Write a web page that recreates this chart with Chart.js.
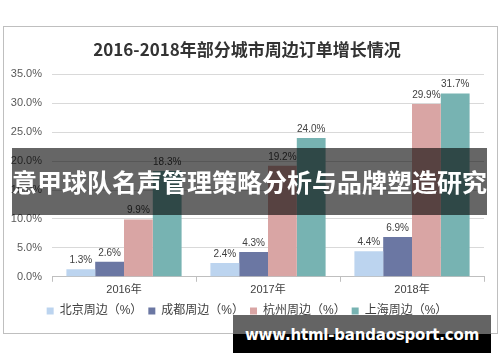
<!DOCTYPE html>
<html lang="zh">
<head>
<meta charset="UTF-8">
<title>2016-2018年部分城市周边订单增长情况</title>
<style>
  html, body { margin: 0; padding: 0; background: #fff; }
  body { width: 500px; height: 362px; position: relative; overflow: hidden; }
  .frame {
    position: absolute; left: 3px; top: 26px; width: 493px; height: 306px;
    border: 1px solid #bfbfbf; background: #fff;
  }
  .banner {
    position: absolute; left: 12px; top: 148px; width: 475px; height: 67px;
    background: rgba(0, 0, 0, 0.6); color: #fff;
    font-family: "Noto Sans CJK SC", sans-serif; font-weight: bold;
    font-size: 25px; line-height: 67px; text-align: center; white-space: nowrap;
  }
  .site {
    position: absolute; left: 233px; top: 315px; width: 258px; height: 38px;
    background: linear-gradient(#646464 0, #646464 50%, #000 50%, #000 100%);
    color: #fff; font-family: "DejaVu Sans", sans-serif; font-weight: bold;
    font-size: 15px; letter-spacing: -0.2px; line-height: 40px; text-align: center; white-space: nowrap;
  }
</style>
</head>
<body>
<div class="frame"><canvas id="chart" width="493" height="306"></canvas></div>
<div class="banner">意甲球队名声管理策略分析与品牌塑造研究</div>
<div class="site">www.html-bandaosport.com</div>

<script src="https://cdn.jsdelivr.net/npm/chart.js"></script>
<script>
const years = ['2016年', '2017年', '2018年'];
const beijing = [1.3, 2.4, 4.4];
const chengdu = [2.6, 4.3, 6.9];
const hangzhou = [9.9, 19.2, 29.9];
const shanghai = [18.3, 24.0, 31.7];

const fontFamily = '"Liberation Sans", "Noto Sans CJK SC", sans-serif';

// value labels above each bar
const barLabels = {
  id: 'barLabels',
  afterDatasetsDraw(chart) {
    const ctx = chart.ctx;
    ctx.save();
    ctx.font = '10px ' + fontFamily;
    ctx.fillStyle = '#404040';
    ctx.textAlign = 'center';
    ctx.textBaseline = 'bottom';
    chart.data.datasets.forEach((ds, i) => {
      chart.getDatasetMeta(i).data.forEach((bar, j) => {
        ctx.fillText(ds.data[j].toFixed(1) + '%', bar.x, bar.y - 4);
      });
    });
    ctx.restore();
  }
};

new Chart(document.getElementById('chart'), {
  type: 'bar',
  data: {
    labels: years,
    datasets: [
      { label: '北京周边（%）', data: beijing, backgroundColor: '#bcd4ef' },
      { label: '成都周边（%）', data: chengdu, backgroundColor: '#6b77a3' },
      { label: '杭州周边（%）', data: hangzhou, backgroundColor: '#d9a5a4' },
      { label: '上海周边（%）', data: shanghai, backgroundColor: '#77b3b2' }
    ]
  },
  options: {
    responsive: false,
    animation: false,
    layout: { padding: { left: 6, right: 13, top: 6, bottom: 6 } },
    datasets: { bar: { categoryPercentage: 0.8, barPercentage: 1.0 } },
    plugins: {
      title: {
        display: true,
        text: '2016-2018年部分城市周边订单增长情况',
        color: '#333',
        font: { family: '"Noto Sans CJK SC", sans-serif', size: 17, weight: 'bold' },
        padding: { top: 6, bottom: 15 }
      },
      legend: {
        position: 'bottom',
        labels: {
          boxWidth: 7, boxHeight: 7, padding: 6,
          color: '#404040',
          font: { family: fontFamily, size: 12 }
        }
      },
      tooltip: { enabled: false }
    },
    scales: {
      x: {
        grid: { drawOnChartArea: false, color: '#bfbfbf', tickLength: 5 },
        border: { color: '#bfbfbf' },
        ticks: { color: '#404040', font: { family: fontFamily, size: 11 }, padding: 2 }
      },
      y: {
        min: 0, max: 35,
        afterFit(scale) { scale.width = 42; },
        grid: { color: '#d9d9d9', drawTicks: false },
        border: { display: false },
        ticks: {
          stepSize: 5, padding: 10,
          color: '#595959', font: { family: fontFamily, size: 11 },
          callback: v => v.toFixed(1) + '%'
        }
      }
    }
  },
  plugins: [barLabels]
});
</script>
</body>
</html>
